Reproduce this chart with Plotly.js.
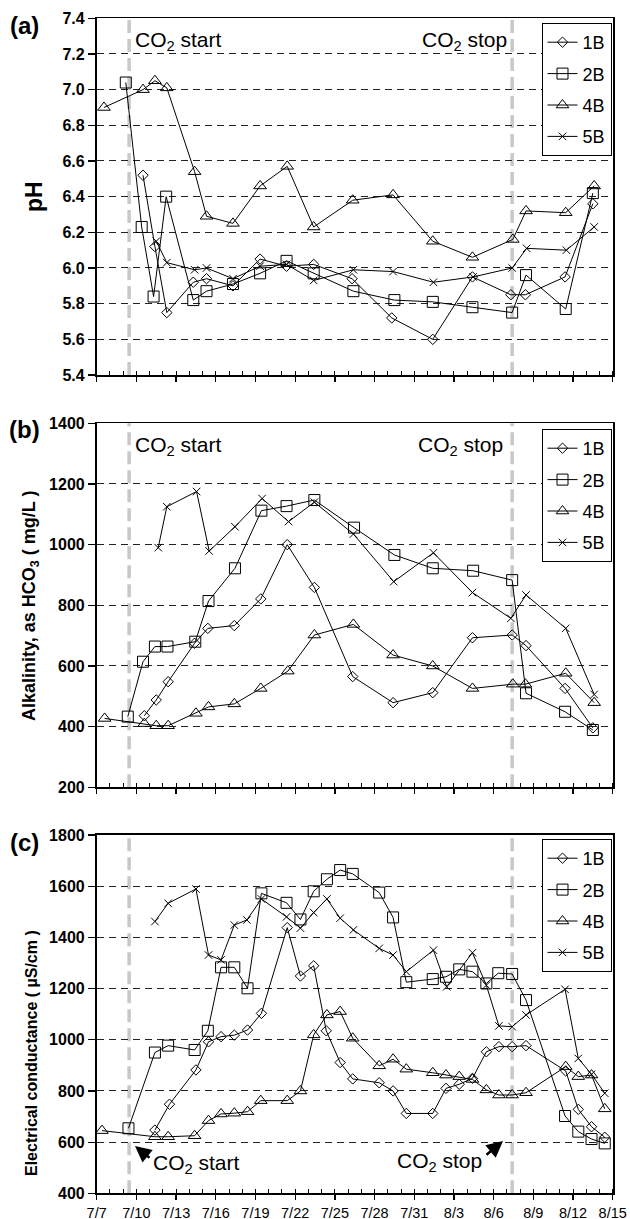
<!DOCTYPE html>
<html><head><meta charset="utf-8">
<script src="https://cdn.plot.ly/plotly-3.0.1.min.js"></script>
<style>html,body{margin:0;padding:0;background:#fff}#chart{width:630px;height:1219px}</style>
</head><body><div id="chart"></div>
<script>
// ---------- DATA (x = days since 7/7) ----------
const tickDays   = [0,3,6,9,12,15,18,21,24,27,30,33,36,39];
const tickLabels = ['7/7','7/10','7/13','7/16','7/19','7/22','7/25','7/28','7/31','8/3','8/6','8/9','8/12','8/15'];
const co2StartDay = 2.45;
const co2StopDay  = 31.4;
const seriesNames = ['1B','2B','4B','5B'];

// (a) pH
const pH_1B_x = [3.5,4.4,5.3,7.3,8.3,10.3,12.35,14.35,16.4,19.3,22.3,25.4,28.4,31.3,32.4,35.4,37.5];
const pH_1B_y = [6.52,6.12,5.75,5.92,5.94,5.90,6.05,6.01,6.02,5.94,5.72,5.60,5.95,5.85,5.85,5.95,6.36];
const pH_2B_x = [2.2,3.4,4.3,5.25,7.3,8.3,10.3,12.35,14.35,16.4,19.4,22.5,25.4,28.4,31.4,32.45,35.45,37.5];
const pH_2B_y = [7.04,6.23,5.84,6.40,5.82,5.87,5.91,5.97,6.04,5.97,5.87,5.82,5.81,5.78,5.75,5.96,5.77,6.42];
const pH_4B_x = [0.55,3.5,4.4,5.3,7.4,8.3,10.3,12.35,14.4,16.4,19.35,22.4,25.4,28.4,31.45,32.45,35.45,37.6];
const pH_4B_y = [6.90,7.00,7.05,7.01,6.54,6.29,6.25,6.46,6.57,6.23,6.38,6.41,6.15,6.06,6.16,6.32,6.31,6.46];
const pH_5B_x = [4.5,5.3,7.4,8.3,10.3,12.35,14.35,16.4,19.4,22.4,25.45,28.45,31.4,32.5,35.5,37.6];
const pH_5B_y = [6.15,6.03,5.99,6.00,5.94,6.01,6.02,5.93,5.99,5.98,5.92,5.95,6.00,6.11,6.10,6.23];

// (b) Alkalinity as HCO3 (mg/L)
const alk_1B_x = [3.6,4.5,5.4,7.4,8.4,10.4,12.4,14.4,16.45,19.35,22.4,25.4,28.4,31.4,32.45,35.4,37.5];
const alk_1B_y = [436,488,548,675,724,733,821,1000,859,565,479,512,693,702,667,526,396];
const alk_2B_x = [2.35,3.5,4.4,5.35,7.45,8.45,10.45,12.45,14.35,16.45,19.45,22.5,25.4,28.45,31.4,32.45,35.4,37.5];
const alk_2B_y = [433,614,664,664,680,814,922,1112,1127,1147,1056,966,922,914,883,510,449,389];
const alk_4B_x = [0.6,3.6,4.5,5.4,7.5,8.45,10.4,12.4,14.45,16.45,19.4,22.4,25.4,28.4,31.45,32.4,35.45,37.6];
const alk_4B_y = [427,410,403,403,444,465,475,526,583,702,737,636,600,526,540,540,576,479];
const alk_5B_x = [4.65,5.3,7.55,8.5,10.45,12.5,14.5,16.45,19.4,22.45,25.45,28.4,31.3,32.45,35.45,37.6];
const alk_5B_y = [990,1125,1175,979,1059,1152,1076,1140,1035,878,973,842,757,834,724,506];

// (c) Electrical conductance (uS/cm)
const ec_1B_x = [4.4,5.5,7.5,8.45,9.4,10.4,11.4,12.45,14.4,15.4,16.4,17.35,18.4,19.35,21.35,22.4,23.4,25.4,26.4,27.4,28.4,29.45,30.4,31.4,32.45,35.45,36.4,37.4,38.4];
const ec_1B_y = [647,748,882,992,1012,1018,1038,1103,1438,1249,1289,1035,911,847,832,800,712,712,810,826,849,953,973,973,977,878,728,660,619];
const ec_2B_x = [2.4,4.4,5.4,7.4,8.4,9.4,10.4,11.4,12.45,14.35,15.4,16.4,17.4,18.4,19.35,21.35,22.4,23.4,25.4,26.4,27.4,28.4,29.45,30.35,31.4,32.45,35.4,36.4,37.4,38.4];
const ec_2B_y = [654,950,977,960,1035,1283,1283,1201,1572,1535,1470,1580,1627,1663,1648,1575,1478,1225,1237,1246,1275,1266,1220,1260,1257,1155,702,641,612,595];
const ec_4B_x = [0.4,4.4,5.4,7.4,8.45,9.4,10.4,11.4,12.4,14.4,15.4,16.4,17.4,18.4,19.35,21.35,22.4,23.4,25.4,26.4,27.4,28.4,29.45,30.4,31.4,32.45,35.45,36.4,37.4,38.4];
const ec_4B_y = [645,621,621,625,684,710,713,719,762,762,800,1019,1097,1110,1006,898,924,885,871,862,856,845,804,784,784,793,895,856,862,730];
const ec_5B_x = [4.4,5.4,7.5,8.45,9.4,10.4,11.35,12.45,14.35,15.4,16.4,17.4,18.4,19.4,21.35,22.4,23.4,25.45,26.45,28.4,29.45,30.4,31.4,32.45,35.4,36.4,37.4,38.4];
const ec_5B_y = [1462,1533,1589,1331,1312,1448,1468,1550,1480,1436,1497,1550,1475,1429,1357,1331,1266,1350,1207,1340,1213,1054,1051,1097,1197,927,865,791];

// ---------- STYLE / LAYOUT ----------
const W = 630, H = 1219;
const FONT = "Arial, 'Liberation Sans', sans-serif";
const px = x => x / W;
const py = y => 1 - y / H;

const markerStyle = {
  '1B': {symbol: 'diamond-open', size: 8},
  '2B': {symbol: 'square-open', size: 11},
  '4B': {symbol: 'triangle-up-open', size: 11},
  '5B': {symbol: 'x-thin-open', size: 7.5}
};

const panelData = [
  {xs: [pH_1B_x, pH_2B_x, pH_4B_x, pH_5B_x], ys: [pH_1B_y, pH_2B_y, pH_4B_y, pH_5B_y]},
  {xs: [alk_1B_x, alk_2B_x, alk_4B_x, alk_5B_x], ys: [alk_1B_y, alk_2B_y, alk_4B_y, alk_5B_y]},
  {xs: [ec_1B_x, ec_2B_x, ec_4B_x, ec_5B_x], ys: [ec_1B_y, ec_2B_y, ec_4B_y, ec_5B_y]}
];

const panelGeom = [
  {top: 18.3, bottom: 375, range: [5.4, 7.4], dtick: 0.2, fmt: '.1f', legTop: 23},
  {top: 423.3, bottom: 787.3, range: [200, 1400], dtick: 200, fmt: 'd', legTop: 429},
  {top: 835, bottom: 1193.3, range: [400, 1800], dtick: 200, fmt: 'd', legTop: 839}
];
const xLeft = 96.7, xRight = 612.7;

const traces = [];
const layout = {
  width: W, height: H,
  margin: {l: 0, r: 0, t: 0, b: 0},
  paper_bgcolor: '#fff', plot_bgcolor: '#fff',
  font: {family: FONT, color: '#000'},
  showlegend: true,
  shapes: [], annotations: []
};

panelData.forEach((pd, p) => {
  const sfx = p === 0 ? '' : String(p + 1);
  const legName = p === 0 ? 'legend' : 'legend' + (p + 1);
  seriesNames.forEach((nm, i) => {
    traces.push({
      type: 'scatter', mode: 'lines+markers',
      x: pd.xs[i], y: pd.ys[i], name: nm,
      xaxis: 'x' + sfx, yaxis: 'y' + sfx,
      legend: legName, legendgroup: nm + p,
      line: {color: '#000', width: 1},
      marker: {symbol: markerStyle[nm].symbol, size: markerStyle[nm].size, color: '#000', line: {color: '#000', width: 1}},
      cliponaxis: false
    });
  });
  const g = panelGeom[p];
  layout['xaxis' + sfx] = {
    domain: [px(xLeft), px(xRight)], anchor: 'y' + sfx,
    range: [0, 39], fixedrange: true,
    tickmode: 'array', tickvals: tickDays, ticktext: tickLabels,
    showticklabels: p === 2,
    ticks: 'outside', ticklen: 5, tickwidth: 1.3, tickcolor: '#000',
    minor: {dtick: 1, tick0: 0, ticks: 'inside', ticklen: 4, tickwidth: 1, tickcolor: '#000', showgrid: false},
    showline: true, mirror: true, linecolor: '#000', linewidth: 1.8,
    showgrid: false, zeroline: false,
    tickfont: {family: FONT, size: 14.5, color: '#000'}
  };
  layout['yaxis' + sfx] = {
    domain: [py(g.bottom), py(g.top)], anchor: 'x' + sfx,
    range: g.range, dtick: g.dtick, tick0: g.range[0], tickformat: g.fmt, fixedrange: true,
    ticks: 'outside', ticklen: 7, tickwidth: 1.2, tickcolor: '#000',
    showline: true, mirror: true, linecolor: '#000', linewidth: 1.8,
    showgrid: true, gridcolor: '#222', gridwidth: 1, griddash: '7px,5px',
    zeroline: false,
    tickfont: {family: FONT, size: 16, color: '#000', weight: 'bold'}
  };
  layout[legName] = {
    x: px(611.5), xanchor: 'right', y: py(g.legTop), yanchor: 'top',
    xref: 'paper', yref: 'paper',
    bgcolor: '#fff', bordercolor: '#000', borderwidth: 1,
    font: {family: FONT, size: 18, color: '#000'},
    traceorder: 'grouped', tracegroupgap: 5,
    itemwidth: 30
  };
  [co2StartDay, co2StopDay].forEach(d => {
    layout.shapes.push({
      type: 'line', xref: 'x' + sfx, yref: 'y' + sfx + ' domain',
      x0: d, x1: d, y0: 0, y1: 1, layer: 'below',
      line: {color: '#c8c8c8', width: 3.5, dash: '13px,6px'}
    });
  });
});

const ann = layout.annotations;
const txt = (text, x, y, opts) => ann.push(Object.assign({
  text: text, xref: 'paper', yref: 'paper', x: px(x), y: py(y),
  xanchor: 'center', yanchor: 'middle',
  showarrow: false, font: {family: FONT, size: 21, color: '#000'}
}, opts || {}));

// panel labels
const labFont = {family: FONT, size: 24, color: '#000', weight: 'bold'};
txt('(a)', 24, 25, {font: labFont});
txt('(b)', 24, 430, {font: labFont});
txt('(c)', 24, 842, {font: labFont});

// y titles
txt('pH', 34, 197, {textangle: -90, font: {family: FONT, size: 23, color: '#000', weight: 'bold'}});
txt('Alkalinity, as HCO<sub>3</sub> ( mg/L )', 30, 606, {textangle: -90, font: {family: FONT, size: 18, color: '#000', weight: 'bold'}});
txt('Electrical conductance ( \u00b5S/cm )', 31, 1053, {textangle: -90, font: {family: FONT, size: 16, color: '#000', weight: 'bold'}});

// CO2 start / stop labels
txt('CO<sub>2</sub> start', 133, 41, {xanchor: 'left'});
txt('CO<sub>2</sub> stop', 509, 41, {xanchor: 'right'});
txt('CO<sub>2</sub> start', 133, 446, {xanchor: 'left'});
txt('CO<sub>2</sub> stop', 505, 446, {xanchor: 'right'});
txt('CO<sub>2</sub> start', 151, 1164, {xanchor: 'left'});
txt('CO<sub>2</sub> stop', 484, 1162, {xanchor: 'right'});

// arrows
ann.push({text: '', xref: 'paper', yref: 'paper', x: px(135), y: py(1146), axref: 'pixel', ayref: 'pixel',
  ax: 16, ay: 13, showarrow: true, arrowhead: 2, arrowsize: 1.3, arrowwidth: 2.5, arrowcolor: '#000'});
ann.push({text: '', xref: 'paper', yref: 'paper', x: px(503), y: py(1141), axref: 'pixel', ayref: 'pixel',
  ax: -18, ay: 15, showarrow: true, arrowhead: 2, arrowsize: 1.3, arrowwidth: 2.5, arrowcolor: '#000'});

Plotly.newPlot('chart', traces, layout, {staticPlot: true, displayModeBar: false});
</script></body></html>
